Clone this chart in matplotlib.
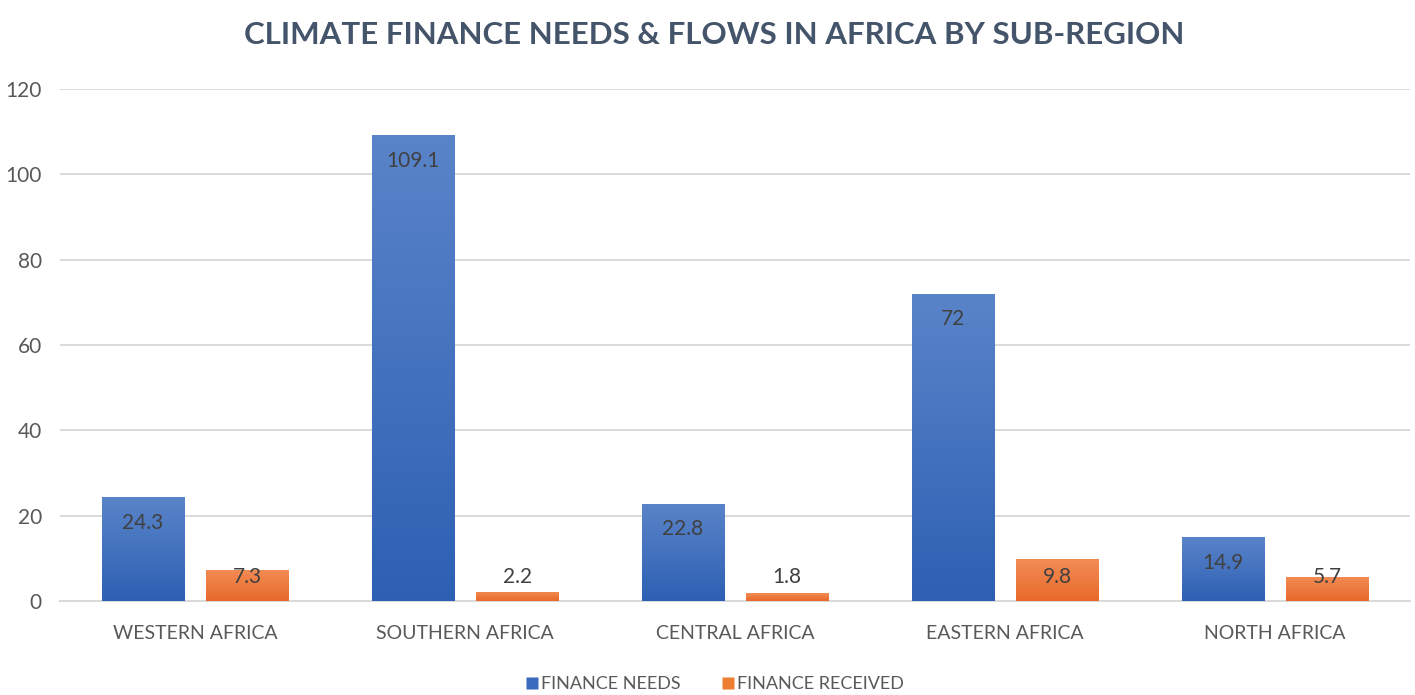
import matplotlib
matplotlib.use("Agg")
import matplotlib.pyplot as plt
import numpy as np
from matplotlib.colors import LinearSegmentedColormap
from matplotlib.lines import Line2D

categories = ["WESTERN AFRICA", "SOUTHERN AFRICA", "CENTRAL AFRICA", "EASTERN AFRICA", "NORTH AFRICA"]
finance_needs = [24.3, 109.1, 22.8, 72, 14.9]
finance_received = [7.3, 2.2, 1.8, 9.8, 5.7]
needs_labels = ["24.3", "109.1", "22.8", "72", "14.9"]
received_labels = ["7.3", "2.2", "1.8", "9.8", "5.7"]
series_names = ["FINANCE NEEDS", "FINANCE RECEIVED"]
yticks = [0, 20, 40, 60, 80, 100, 120]
title = "CLIMATE FINANCE NEEDS & FLOWS IN AFRICA BY SUB-REGION"

FONT = ['Lato', 'DejaVu Sans']
plt.rcParams['font.family'] = FONT

fig = plt.figure(figsize=(14.15, 6.95), dpi=100)
ax = fig.add_axes([0.0424, 0.1353, 0.9541, 0.7367])

x = np.arange(len(categories))
w = 0.304
off = 0.193

blue_cmap = LinearSegmentedColormap.from_list("b", ["#2d60b3", "#5a84c9"])
orange_cmap = LinearSegmentedColormap.from_list("o", ["#e8692a", "#f28c55"])

def grad_bars(xs, vals, cmap):
    bars = ax.bar(xs, vals, width=w, color="none", edgecolor="none", zorder=3)
    for b in bars:
        x0, y0 = b.get_x(), b.get_y()
        bw, bh = b.get_width(), b.get_height()
        grad = np.linspace(0, 1, 256).reshape(-1, 1)
        im = ax.imshow(grad, cmap=cmap, origin="lower", aspect="auto",
                       extent=[x0, x0 + bw, y0, y0 + bh], zorder=3)
        im.set_clip_path(b)
    return bars

grad_bars(x - off, finance_needs, blue_cmap)
grad_bars(x + off, finance_received, orange_cmap)

for xi, v, lab in zip(x, finance_needs, needs_labels):
    ax.text(xi - off, v - 6.0, lab, ha="center", va="center", fontsize=15,
            color="#404040", zorder=5)
for xi, v, lab in zip(x, finance_received, received_labels):
    ax.text(xi + off, max(v - 4.5, 5.5), lab, ha="center", va="center", fontsize=15,
            color="#404040", zorder=5)

ax.set_xlim(-0.5, len(categories) - 0.5)
ax.set_ylim(0, 120)
ax.set_yticks(yticks)
ax.set_yticklabels([str(t) for t in yticks], fontsize=15, color="#595959")
ax.set_xticks(x)
ax.set_xticklabels(categories, fontsize=14, color="#595959")
ax.tick_params(axis="both", length=0)
ax.tick_params(axis="y", pad=13)
ax.tick_params(axis="x", pad=17)
ax.yaxis.grid(True, color="#d9d9d9", linewidth=1.4, zorder=0)
ax.set_axisbelow(True)
for s in ["top", "right", "left"]:
    ax.spines[s].set_visible(False)
ax.spines["bottom"].set_color("#d9d9d9")
ax.spines["bottom"].set_linewidth(1.4)
ax.spines["bottom"].set_zorder(1)

fig.text(0.505, 0.949, title, ha="center", va="center", fontsize=22.5,
         fontweight="bold", color="#44546a")

handles = [Line2D([], [], marker="s", linestyle="none", markersize=9,
                  markerfacecolor="#3a6bbd", markeredgecolor="none"),
           Line2D([], [], marker="s", linestyle="none", markersize=9,
                  markerfacecolor="#ed7d31", markeredgecolor="none")]
leg = fig.legend(handles, series_names, loc="center", bbox_to_anchor=(0.505, 0.016),
                 ncol=2, frameon=False, fontsize=13, handletextpad=0.1,
                 columnspacing=2.2, handlelength=0.8)
for t in leg.get_texts():
    t.set_color("#595959")

fig.savefig("out.png", dpi=100)
